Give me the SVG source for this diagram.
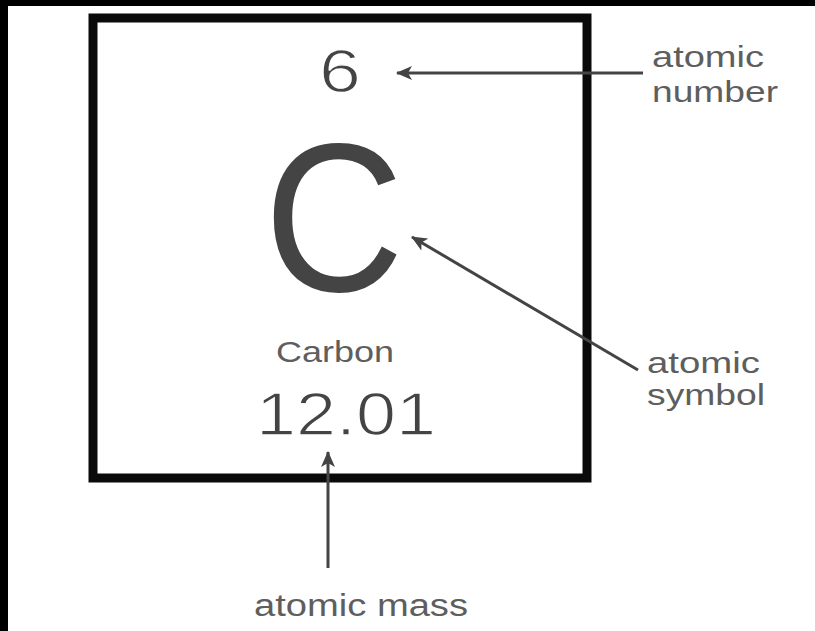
<svg xmlns="http://www.w3.org/2000/svg" width="815" height="631" viewBox="0 0 815 631">
  <style>
    .lbl { font-family: "Liberation Sans", Arial, sans-serif; fill: #5e5e5e; }
    .big { font-family: "Liberation Sans", Arial, sans-serif; fill: #444444; }
    .thin { stroke: #ffffff; stroke-width: 1.4; }
    .conn { stroke: #444444; stroke-width: 3; fill: none; }
  </style>
  <defs>
    <marker id="arrow" viewBox="0 0 16 14" refX="15" refY="7" markerWidth="16" markerHeight="14" markerUnits="userSpaceOnUse" orient="auto">
      <path d="M16,7 L0,0 L4,7 L0,14 Z" fill="#444444"/>
    </marker>
  </defs>
  <rect x="0" y="0" width="815" height="631" fill="#000000"/>
  <rect x="8" y="6" width="807" height="625" fill="#ffffff"/>

  <g id="element">
    <rect x="93" y="18" width="494" height="460" fill="none" stroke="#0a0a0a" stroke-width="9"/>
    <text class="big thin" x="340" y="92" font-size="62" text-anchor="middle" textLength="42" lengthAdjust="spacingAndGlyphs">6</text>
    <text class="big" x="334" y="291" font-size="212" text-anchor="middle" textLength="140" lengthAdjust="spacingAndGlyphs">C</text>
    <text class="lbl" x="335" y="362" font-size="30" text-anchor="middle" textLength="118" lengthAdjust="spacingAndGlyphs">Carbon</text>
    <text class="big thin" x="346" y="435" font-size="62" text-anchor="middle" textLength="180" lengthAdjust="spacingAndGlyphs">12.01</text>
  </g>

  <g id="label-number">
    <text class="lbl" x="652" y="67" font-size="30" textLength="112" lengthAdjust="spacingAndGlyphs">atomic</text>
    <text class="lbl" x="652" y="102" font-size="30" textLength="126" lengthAdjust="spacingAndGlyphs">number</text>
  </g>
  <g id="label-symbol">
    <text class="lbl" x="647" y="373" font-size="30" textLength="113" lengthAdjust="spacingAndGlyphs">atomic</text>
    <text class="lbl" x="647" y="405" font-size="30" textLength="118" lengthAdjust="spacingAndGlyphs">symbol</text>
  </g>
  <g id="label-mass">
    <text class="lbl" x="254" y="616" font-size="31" textLength="214" lengthAdjust="spacingAndGlyphs">atomic mass</text>
  </g>

  <g id="connectors">
    <line class="conn" x1="643" y1="73" x2="397" y2="73" marker-end="url(#arrow)"/>
    <line class="conn" x1="638" y1="370" x2="412" y2="237" marker-end="url(#arrow)"/>
    <line class="conn" x1="328" y1="568" x2="328" y2="452" marker-end="url(#arrow)"/>
  </g>
</svg>
